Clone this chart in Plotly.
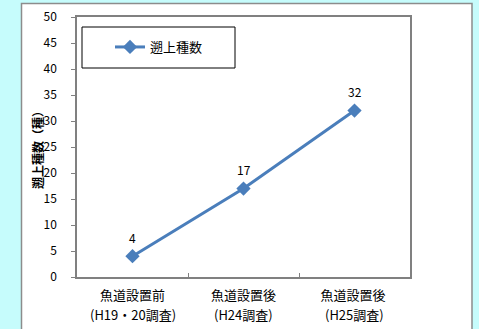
import plotly.graph_objects as go

categories = ["魚道設置前", "魚道設置後", "魚道設置後 "]
category_sublabels = ["(H19・20調査)", "(H24調査)", "(H25調査)"]
species_counts = [4, 17, 32]
series_name = "遡上種数"
y_title = "遡上種数（種）"

FONT = "Noto Sans CJK JP, Noto Sans, sans-serif"
L, R, T, B = 77, 69, 17, 52
W, H = 479, 329
pw, ph = W - L - R, H - T - B

def px_x(x):
    return (x - L) / pw

def px_y(y):
    return (H - B - y) / ph

fig = go.Figure()
fig.add_trace(go.Scatter(
    x=categories, y=species_counts, name=series_name,
    mode="lines+markers",
    line=dict(color="#4a7ebb", width=3),
    marker=dict(symbol="diamond", size=11, color="#4a7ebb"),
    cliponaxis=False,
))

annotations = []
for c, v in zip(categories, species_counts):
    annotations.append(dict(x=c, y=v, xref="x", yref="y", text=str(v), showarrow=False,
                            yshift=19, font=dict(size=12, family=FONT, color="#000000")))
for c, s in zip(categories, category_sublabels):
    annotations.append(dict(x=c, y=0, xref="x", yref="paper", text=s, showarrow=False,
                            yanchor="middle", yshift=-(314 - 277),
                            font=dict(size=13, family=FONT, color="#000000")))
annotations.append(dict(x=px_x(37), y=0.5, xref="paper", yref="paper",
                        text="<b>" + y_title + "</b>", textangle=-90, showarrow=False,
                        xanchor="center", yanchor="middle",
                        font=dict(size=12, family=FONT, color="#000000")))

fig.update_layout(
    width=W, height=H,
    margin=dict(l=L, r=R, t=T, b=B),
    paper_bgcolor="#c6fcfc",
    plot_bgcolor="#ffffff",
    font=dict(family=FONT, size=12, color="#000000"),
    showlegend=True,
    legend=dict(
        x=px_x(110), y=px_y(32), xanchor="left", yanchor="top",
        bgcolor="rgba(0,0,0,0)", borderwidth=0,
        font=dict(size=13, family=FONT, color="#000000"),
        itemwidth=30,
    ),
    annotations=annotations,
    shapes=[
        dict(type="rect", xref="paper", yref="paper",
             x0=px_x(21.5), x1=px_x(472), y0=px_y(340), y1=px_y(3.5),
             line=dict(color="#8c8c8c", width=1.5), fillcolor="#ffffff", layer="below"),
        dict(type="rect", xref="paper", yref="paper",
             x0=px_x(82), x1=px_x(235), y0=px_y(68), y1=px_y(27),
             line=dict(color="#000000", width=1), fillcolor="rgba(0,0,0,0)", layer="above"),
    ],
)

fig.update_xaxes(
    type="category", range=[-0.5, 2.5], automargin=False,
    showline=True, linecolor="#808080", linewidth=1.5, mirror=True,
    ticks="inside", tickson="boundaries", ticklen=4, tickcolor="#808080",
    showgrid=False, zeroline=False, ticklabelstandoff=6,
    tickfont=dict(size=13, family=FONT, color="#000000"),
)
fig.update_yaxes(
    range=[0, 50], dtick=5, tick0=0, automargin=False,
    showline=True, linecolor="#808080", linewidth=1.5, mirror=True,
    ticks="outside", ticklen=4, tickcolor="#808080",
    showgrid=False, zeroline=False, ticklabelstandoff=12,
    tickfont=dict(size=12, family=FONT, color="#000000"),
)

fig.write_html("out.html")
